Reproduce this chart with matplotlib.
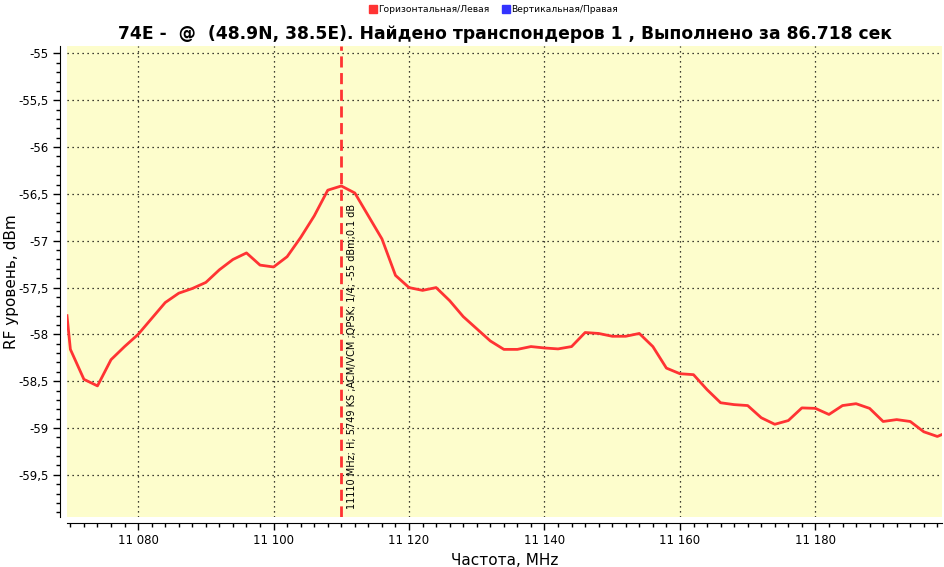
import matplotlib.pyplot as plt
from matplotlib.lines import Line2D
from matplotlib.ticker import MultipleLocator, FuncFormatter

# scan data, MHz / dBm
freq = [11069.5, 11070, 11072, 11074, 11076, 11078, 11080, 11082, 11084, 11086,
        11088, 11090, 11092, 11094, 11096, 11098, 11100, 11102, 11104, 11106,
        11108, 11110, 11112, 11114, 11116, 11118, 11120, 11122, 11124, 11126,
        11128, 11130, 11132, 11134, 11136, 11138, 11140, 11142, 11144, 11146,
        11148, 11150, 11152, 11154, 11156, 11158, 11160, 11162, 11164, 11166,
        11168, 11170, 11172, 11174, 11176, 11178, 11180, 11182, 11184, 11186,
        11188, 11190, 11192, 11194, 11196, 11198, 11200]
level = [-57.80, -58.16, -58.48, -58.55, -58.27, -58.13, -58.00, -57.83, -57.66, -57.56,
         -57.51, -57.445, -57.31, -57.20, -57.13, -57.26, -57.28, -57.17, -56.965, -56.735,
         -56.46, -56.415, -56.49, -56.735, -56.98, -57.37, -57.50, -57.53, -57.50, -57.64,
         -57.81, -57.94, -58.07, -58.16, -58.16, -58.13, -58.145, -58.155, -58.13, -57.98,
         -57.99, -58.02, -58.02, -57.99, -58.13, -58.36, -58.42, -58.43, -58.59, -58.73,
         -58.75, -58.76, -58.89, -58.96, -58.92, -58.785, -58.79, -58.855, -58.76, -58.74,
         -58.79, -58.93, -58.91, -58.93, -59.04, -59.09, -59.03]

tp_freq = 11110
tp_label = "11110 MHz; H; 5749 KS ;ACM/VCM ;QPSK; 1/4; -55 dBm;0.1 dB"
title = "74E -  @  (48.9N, 38.5E). Найдено транспондеров 1 , Выполнено за 86.718 сек"

red = "#FF3333"
blue = "#3333FF"

fig = plt.figure(figsize=(9.45, 5.67), dpi=100)
ax = fig.add_axes([0.0709, 0.0882, 0.926, 0.8307])
ax.set_facecolor("#FDFDCC")

ax.plot(freq, level, color=red, lw=2)
ax.axvline(tp_freq, color=red, lw=2, ls=(0, (4, 2)))
ax.text(tp_freq + 0.9, -59.87, tp_label, rotation=90, fontsize=7,
        ha="left", va="bottom")

ax.set_xlim(11069.5, 11198.7)
ax.set_ylim(-59.95, -54.92)

ax.xaxis.set_major_locator(MultipleLocator(20))
ax.xaxis.set_minor_locator(MultipleLocator(2))
ax.yaxis.set_major_locator(MultipleLocator(0.5))
ax.yaxis.set_minor_locator(MultipleLocator(0.1))
ax.xaxis.set_major_formatter(FuncFormatter(lambda v, p: f"{int(round(v)):,}".replace(",", " ")))
ax.yaxis.set_major_formatter(FuncFormatter(lambda v, p: f"{v:g}".replace(".", ",")))
ax.tick_params(labelsize=8.5, length=5, width=1, direction="out")
ax.tick_params(which="minor", length=3, width=1)
ax.grid(True, which="major", color="black", ls=(0, (1, 3)), lw=0.9)

for s in ("top", "right"):
    ax.spines[s].set_visible(False)
ax.spines["left"].set_position(("outward", 5))
ax.spines["bottom"].set_position(("outward", 4))

ax.set_xlabel("Частота, MHz", fontsize=11, labelpad=4)
ax.set_ylabel("RF уровень, dBm", fontsize=11, va="center")
ax.yaxis.set_label_coords(-0.063, 0.5)
fig.text(0.534, 0.94, title, fontsize=12.3, fontweight="bold", ha="center", va="center")

handles = [Line2D([], [], marker="s", ls="none", color=red, markersize=6),
           Line2D([], [], marker="s", ls="none", color=blue, markersize=6)]
fig.legend(handles, ["Горизонтальная/Левая", "Вертикальная/Правая"], loc="upper center",
           bbox_to_anchor=(0.522, 1.005), ncol=2, frameon=False, fontsize=6.6,
           handletextpad=0.1, columnspacing=1.3, handlelength=1)

fig.savefig("out.png", dpi=100)
